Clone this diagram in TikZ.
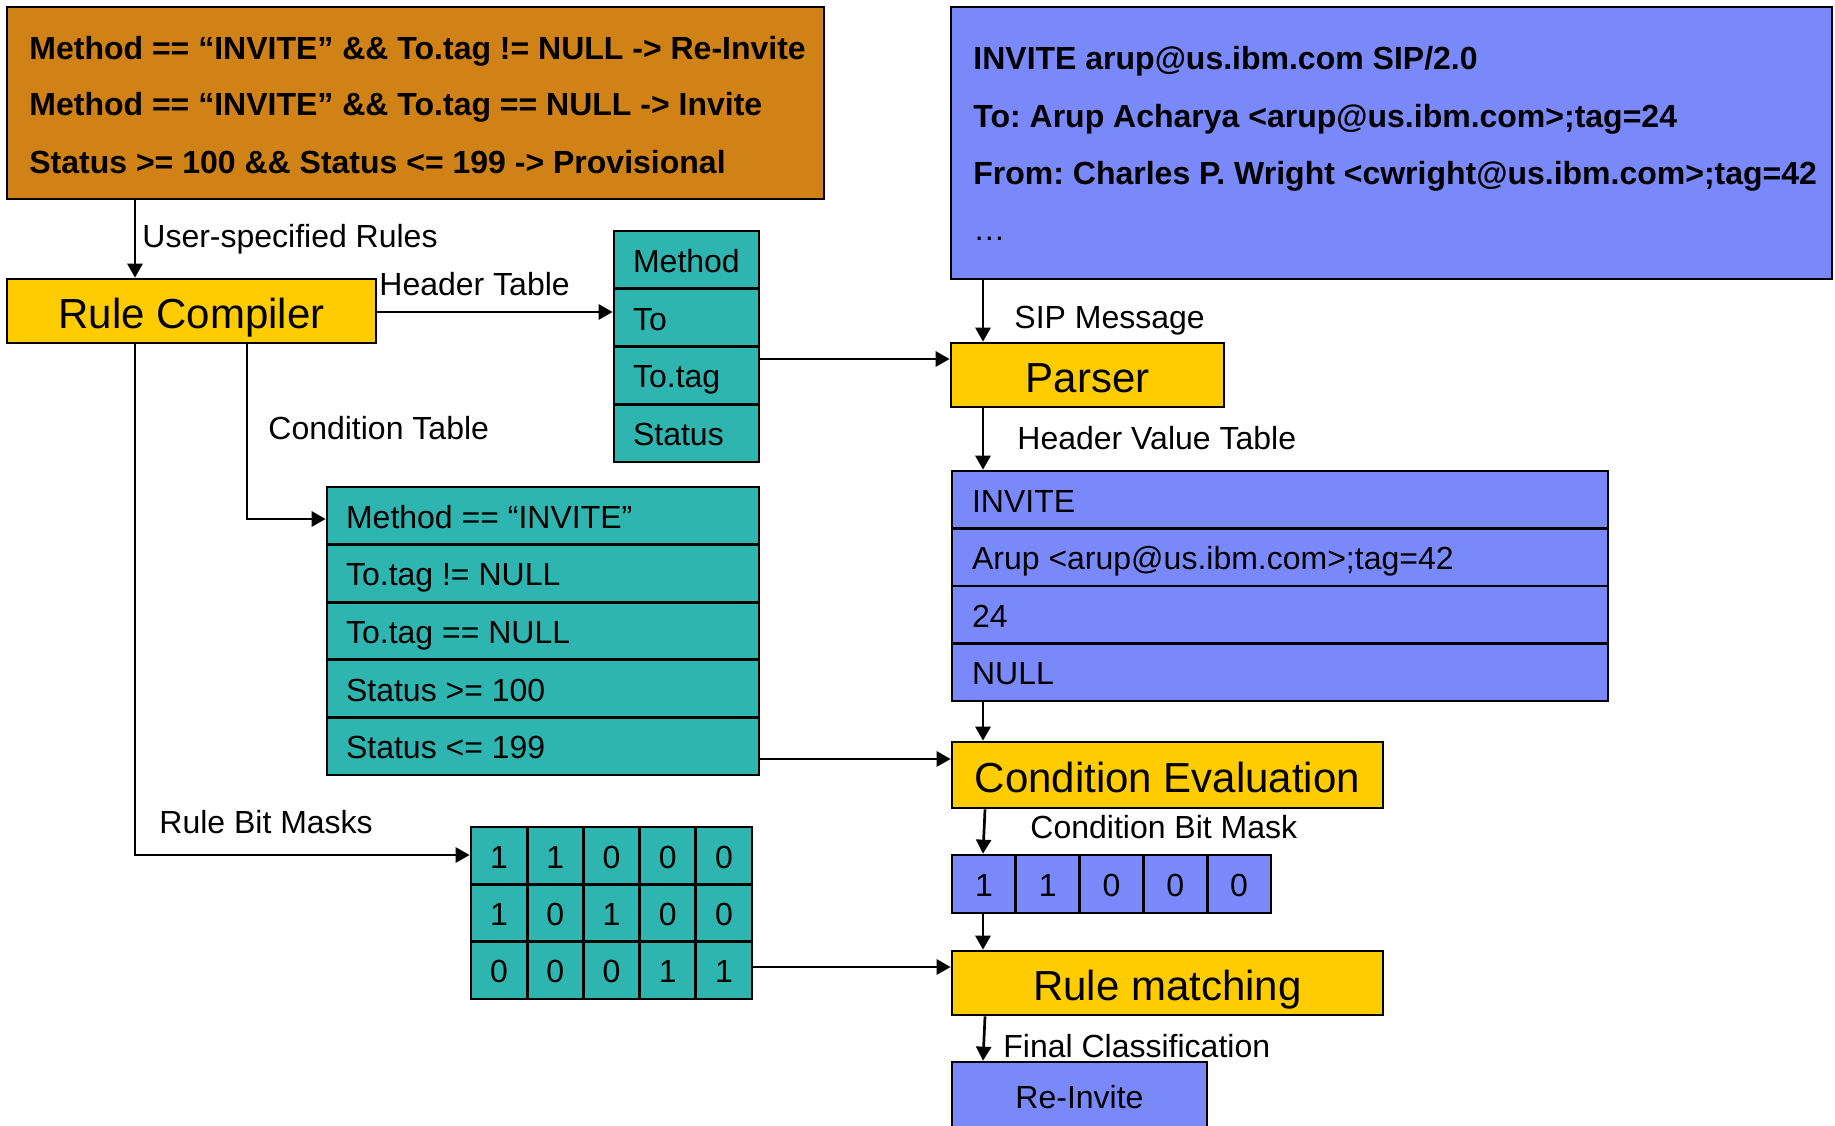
\documentclass[tikz,border=0pt]{standalone}
\usepackage{fontspec}
\setmainfont{Liberation Sans}
\usetikzlibrary{arrows.meta,fit}

\definecolor{ruleorange}{RGB}{208,130,23}
\definecolor{stageyellow}{RGB}{255,204,0}
\definecolor{tableteal}{RGB}{46,181,176}
\definecolor{periwinkle}{RGB}{122,137,250}

\begin{document}
\frenchspacing
\begin{tikzpicture}[x=0.5pt, y=-0.5pt,
  box/.style={draw=black, line width=1.35pt, inner sep=0pt},
  boxtext/.style={inner sep=0pt, font=\fontsize{16}{19}\selectfont, text height=12.4pt, text depth=0pt},
  stagetext/.style={inner sep=0pt, font=\fontsize{21}{25}\selectfont, text height=17.5pt, text depth=0pt},
  lbl/.style={inner sep=0pt, anchor=west, font=\fontsize{16}{19}\selectfont, text height=11.5pt, text depth=0pt},
  boldlbl/.style={lbl, font=\fontsize{16}{19}\selectfont\bfseries},
  wire/.style={line width=1.35pt},
  flow/.style={wire, -{Triangle[length=7pt,width=7.5pt]}},
]
\path[use as bounding box, fill=white] (0,0) rectangle (1835,1125);
\clip (0,0) rectangle (1835,1125);

% user rules
\node[box, fill=ruleorange, fit={(7,7)(824,199)}] (rules) {};
\node[boldlbl] (rule1) at (29,47.5) {Method == “INVITE” \&\& To.tag != NULL -> Re-Invite};
\node[boldlbl] (rule2) at (29,104) {Method == “INVITE” \&\& To.tag == NULL -> Invite};
\node[boldlbl] (rule3) at (29,161.5) {Status >= 100 \&\& Status <= 199 -> Provisional};

% incoming SIP message
\node[box, fill=periwinkle, fit={(951,7)(1832,279)}] (sip) {};
\node[boldlbl] (sip1) at (973,58) {INVITE arup@us.ibm.com SIP/2.0};
\node[boldlbl] (sip2) at (973,116) {To: Arup Acharya <arup@us.ibm.com>;tag=24};
\node[boldlbl] (sip3) at (973,172.5) {From: Charles P. Wright <cwright@us.ibm.com>;tag=42};
\node[inner sep=0pt, anchor=base west, font=\fontsize{16}{19}\selectfont] (sip4) at (973,240) {…};

% processing stages
\node[box, fill=stageyellow, fit={(7,279)(376,343)}] (compiler) {};
\node[stagetext] (compilertext) at (compiler.center) {Rule Compiler};
\node[box, fill=stageyellow, fit={(951,343)(1224,407)}] (parser) {};
\node[stagetext] (parsertext) at (parser.center) {Parser};
\node[box, fill=stageyellow, fit={(952,742)(1383,808)}] (evaluation) {};
\node[stagetext] (evaluationtext) at (evaluation.center) {Condition Evaluation};
\node[box, fill=stageyellow, fit={(952,951)(1383,1015)}] (matching) {};
\node[stagetext] (matchingtext) at (matching.center) {Rule matching};
\node[box, fill=periwinkle, fit={(952,1062)(1207,1145)}] (result) {};
\node[boxtext] (resulttext) at (1079.5,1096) {Re-Invite};

% header table
\foreach \name [count=\i] in {Method,To,To.tag,Status} {
  \pgfmathsetmacro\rowtop{231+(\i-1)*57.75}
  \node[box, fill=tableteal, fit={(614,\rowtop)(759,\rowtop+57.75)}] (hdr\i) {};
  \node[boxtext, anchor=west] (hdrtext\i) at ([xshift=10pt]hdr\i.west) {\name};
}

% condition table
\foreach \cond [count=\i] in {{Method == “INVITE”},{To.tag != NULL},{To.tag == NULL},{Status >= 100},{Status <= 199}} {
  \pgfmathsetmacro\rowtop{487+(\i-1)*57.6}
  \node[box, fill=tableteal, fit={(327,\rowtop)(759,\rowtop+57.6)}] (cond\i) {};
  \node[boxtext, anchor=west] (condtext\i) at ([xshift=10pt]cond\i.west) {\cond};
}

% header value table
\foreach \val [count=\i] in {{INVITE},{Arup <arup@us.ibm.com>;tag=42},{24},{NULL}} {
  \pgfmathsetmacro\rowtop{471+(\i-1)*57.5}
  \node[box, fill=periwinkle, fit={(952,\rowtop)(1608,\rowtop+57.5)}] (hvt\i) {};
  \node[boxtext, anchor=west] (hvttext\i) at ([xshift=10.5pt]hvt\i.west) {\val};
}

% rule bit masks
\foreach \bits [count=\r] in {{1,1,0,0,0},{1,0,1,0,0},{0,0,0,1,1}} {
  \foreach \b [count=\c] in \bits {
    \pgfmathsetmacro\cellleft{471+(\c-1)*56.2}
    \pgfmathsetmacro\celltop{827+(\r-1)*57.33}
    \node[box, fill=tableteal, fit={(\cellleft,\celltop)(\cellleft+56.2,\celltop+57.33)}] (mask-\r-\c) {};
    \node[boxtext] (masktext-\r-\c) at (mask-\r-\c.center) {\b};
  }
}

% condition bit mask
\foreach \b [count=\c] in {1,1,0,0,0} {
  \pgfmathsetmacro\cellleft{952+(\c-1)*63.8}
  \node[box, fill=periwinkle, fit={(\cellleft,855)(\cellleft+63.8,913)}] (cbm-\c) {};
  \node[boxtext] (cbmtext-\c) at (cbm-\c.center) {\b};
}

% routing rails and levels
\coordinate (leftrail) at (135,0);
\coordinate (condrail) at (247,0);
\coordinate (rightrail) at (983,0);
\coordinate (rightrailb) at (985,0);
\coordinate (hdrlevel) at (0,312);
\coordinate (parselevel) at (0,359);
\coordinate (condlevel) at (0,519);
\coordinate (evallevel) at (0,759);
\coordinate (masklevel) at (0,855);
\coordinate (matchlevel) at (0,967);

% connectors
\draw[flow] (rules.south -| leftrail) -- (compiler.north -| leftrail);
\draw[flow] (compiler.east |- hdrlevel) -- (hdr2.west |- hdrlevel);
\draw[flow] (hdr3.east |- parselevel) -- (parser.west |- parselevel);
\draw[flow] (compiler.south -| condrail) |- (cond1.west |- condlevel);
\draw[flow] (compiler.south -| leftrail) |- (mask-1-1.west |- masklevel);
\draw[flow] (cond5.east |- evallevel) -- (evaluation.west |- evallevel);
\draw[flow] (mask-3-5.east |- matchlevel) -- (matching.west |- matchlevel);
\draw[flow] (sip.south -| rightrail) -- (parser.north -| rightrail);
\draw[flow] (parser.south -| rightrail) -- (hvt1.north -| rightrail);
\draw[flow] (hvt4.south -| rightrail) -- (evaluation.north -| rightrail);
\draw[flow] (evaluation.south -| rightrailb) -- (cbm-1.north -| rightrail);
\draw[flow] (cbm-1.south -| rightrail) -- (matching.north -| rightrail);
\draw[flow] (matching.south -| rightrailb) -- (result.north -| rightrail);

% connector labels
\node[lbl] (userrules) at (142,236) {User-specified Rules};
\node[lbl] (hdrlabel) at (379,284) {Header Table};
\node[lbl] (condlabel) at (268,427.5) {Condition Table};
\node[lbl] (masklabel) at (159,822) {Rule Bit Masks};
\node[lbl] (siplabel) at (1014,317) {SIP Message};
\node[lbl] (hvtlabel) at (1017,438) {Header Value Table};
\node[lbl] (cbmlabel) at (1030,827) {Condition Bit Mask};
\node[lbl] (finallabel) at (1003,1046) {Final Classification};
\end{tikzpicture}
\end{document}
